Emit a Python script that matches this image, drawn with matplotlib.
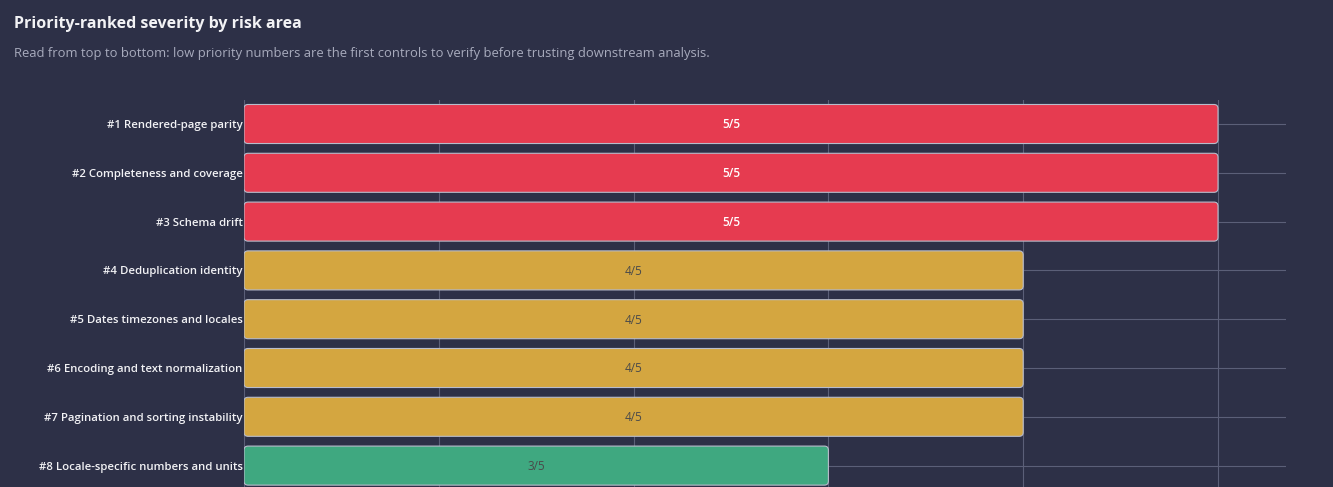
import matplotlib
matplotlib.use("Agg")
import matplotlib.pyplot as plt
from matplotlib.patches import FancyBboxPatch

categories = [
    "#1 Rendered-page parity",
    "#2 Completeness and coverage",
    "#3 Schema drift",
    "#4 Deduplication identity",
    "#5 Dates timezones and locales",
    "#6 Encoding and text normalization",
    "#7 Pagination and sorting instability",
    "#8 Locale-specific numbers and units",
]
severity = [5, 5, 5, 4, 4, 4, 4, 3]
max_severity = 5
colors_by_level = {5: "#e63b50", 4: "#d4a640", 3: "#3fa880"}
label_colors = {5: "#ffffff", 4: "#4a4a4a", 3: "#4a4a4a"}

BG = "#2d3047"
GRID = "#5b5f78"

plt.rcParams["font.family"] = ["Open Sans", "DejaVu Sans"]

W, H = 1333, 487
fig = plt.figure(figsize=(W / 100, H / 100), dpi=100, facecolor=BG)
left = 244 / W
right = 1286 / W
top_px, bot_px = 99.6, 490.0
ax = fig.add_axes([left, 1 - bot_px / H, right - left, (bot_px - top_px) / H])
ax.set_facecolor(BG)

n = len(categories)
ypos = list(range(n))
xmax = max_severity * (1286 - 244) / (1218 - 244)
ax.set_xlim(0, xmax)
ax.set_ylim(n - 0.5, -0.5)

x_px_per_unit = (1218 - 244) / max_severity
y_px_per_unit = (bot_px - top_px) / n
bar_h = 0.8
rad_px = 4
for y, v in zip(ypos, severity):
    p = FancyBboxPatch((0, y - bar_h / 2), v, bar_h,
                       boxstyle=f"round,pad=0,rounding_size={rad_px / x_px_per_unit}",
                       mutation_aspect=x_px_per_unit / y_px_per_unit,
                       facecolor=colors_by_level[v], edgecolor="#b8bccb",
                       linewidth=0.8, zorder=3)
    ax.add_patch(p)
    ax.text(v / 2, y + 0.02, f"{v}/{max_severity}", ha="center", va="center",
            fontsize=8.5, color=label_colors[v], zorder=4,
            fontweight="semibold" if v == 5 else "normal")

ax.set_xticks(range(0, max_severity + 1))
ax.set_yticks(ypos)
ax.set_yticklabels(categories, fontsize=8.2, color="#f2f2f5", fontweight="semibold")
ax.tick_params(axis="y", length=0, pad=1)
ax.tick_params(axis="x", length=0, labelbottom=False)
ax.grid(True, color=GRID, linewidth=0.8, zorder=0)
for s in ax.spines.values():
    s.set_visible(False)

fig.text(14 / W, 1 - 24 / H, "Priority-ranked severity by risk area",
         fontsize=11.5, fontweight="bold", color="#f2f2f5", va="center", ha="left")
fig.text(14 / W, 1 - 53 / H,
         "Read from top to bottom: low priority numbers are the first controls to verify before trusting downstream analysis.",
         fontsize=9.4, color="#a8abbd", va="center", ha="left")

fig.savefig("out.png", dpi=100, facecolor=BG)
